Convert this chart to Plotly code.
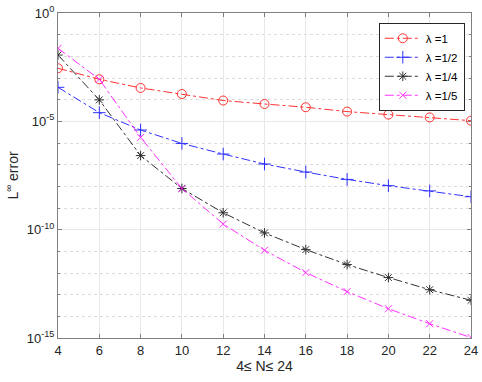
import plotly.graph_objects as go

N = [4, 6, 8, 10, 12, 14, 16, 18, 20, 22, 24]
# log10 of error values
log_err_l1 = [-2.55, -3.06, -3.46, -3.74, -4.04, -4.2, -4.35, -4.55, -4.69, -4.82, -4.97]
log_err_l2 = [-3.43, -4.6, -5.4, -6.02, -6.51, -6.97, -7.34, -7.68, -7.97, -8.21, -8.48]
log_err_l4 = [-1.94, -4.01, -6.58, -8.1, -9.22, -10.15, -10.92, -11.61, -12.21, -12.77, -13.26]
log_err_l5 = [-1.63, -3.06, -5.74, -8.1, -9.74, -10.95, -11.98, -12.86, -13.65, -14.34, -14.98]
names = ["λ =1", "λ =1/2", "λ =1/4", "λ =1/5"]
colors = ["#ff0000", "#0000ff", "#000000", "#ff00ff"]
symbols = ["circle-open", "cross-thin-open", "asterisk-open", "x-thin-open"]
sizes = [9, 9, 8, 7]
ytick_vals = [1, 1e-5, 1e-10, 1e-15]
ytick_text = ["10<sup>0</sup>", "10<sup>-5</sup>", "10<sup>-10</sup>", "10<sup>-15</sup>"]
minor_vals = [10.0 ** (-k) for k in range(1, 15) if k % 5 != 0]

fig = go.Figure()
for name, ys, c, s, sz in zip(names, [log_err_l1, log_err_l2, log_err_l4, log_err_l5], colors, symbols, sizes):
    fig.add_trace(go.Scatter(
        x=N, y=[10 ** v for v in ys], name=name, mode="lines+markers",
        line=dict(color=c, width=1, dash="dashdot"),
        marker=dict(symbol=s, size=sz, color=c, line=dict(color=c, width=1)),
        opacity=0.8,
    ))

axis_common = dict(
    showline=True, linecolor="#808080", linewidth=1, mirror="allticks",
    ticks="inside", ticklen=4, tickcolor="#808080",
    gridcolor="#e8e8e8", gridwidth=1, zeroline=False, automargin=False,
    tickfont=dict(family="Liberation Sans, Arial", size=13, color="#262626"),
)

fig.update_layout(
    width=482, height=382,
    margin=dict(l=58, r=11, t=13, b=44),
    paper_bgcolor="white", plot_bgcolor="white",
    font=dict(family="Liberation Sans, Arial", size=13, color="#262626"),
    xaxis=dict(range=[4, 24], tickvals=N, title=dict(text="4≤ N≤ 24", font=dict(size=14), standoff=2), **axis_common),
    yaxis=dict(type="log", range=[-15, 0], tickvals=ytick_vals, ticktext=ytick_text,
               title=dict(text="L<sup>∞</sup> error", font=dict(size=14), standoff=4),
               minor=dict(tickvals=minor_vals, ticks="inside", ticklen=2, tickcolor="#808080",
                          showgrid=True, gridcolor="#dcdcdc", griddash="dot", gridwidth=1),
               **axis_common),
    legend=dict(x=0.985, y=0.97, xanchor="right", yanchor="top",
                bgcolor="white", bordercolor="#262626", borderwidth=1,
                font=dict(size=11.5, color="#000000"), tracegroupgap=0, itemwidth=36),
    showlegend=True,
)

fig.write_html("out.html", config={"displayModeBar": False},
               post_script="document.body.style.margin='0';")
